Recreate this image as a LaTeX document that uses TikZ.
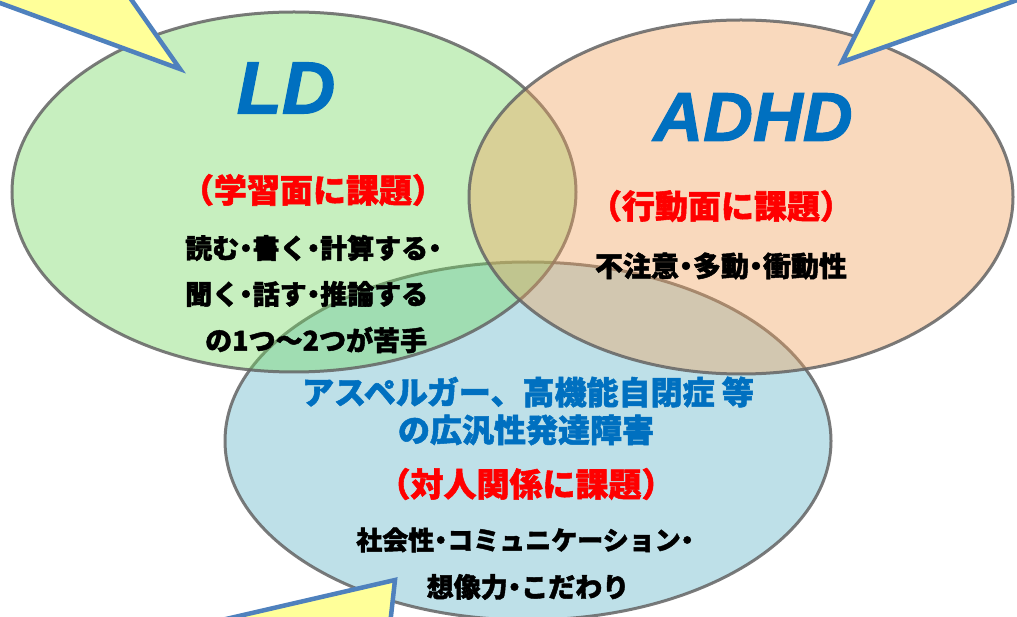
\documentclass[tikz,border=0pt]{standalone}
\usepackage{fontspec}
\newfontfamily\jp{Noto Sans CJK JP}[BoldFeatures={FakeBold=1.6}]
\newfontfamily\lat{Liberation Sans}[BoldItalicFeatures={FakeBold=1.5}]
\usetikzlibrary{shapes.geometric}
\definecolor{ldgreen}{RGB}{115,217,97}
\definecolor{adorange}{RGB}{242,162,92}
\definecolor{pdblue}{RGB}{190,224,232}
\definecolor{rim}{RGB}{100,100,100}
\definecolor{callfill}{RGB}{255,255,153}
\definecolor{callrim}{RGB}{79,129,189}
\definecolor{titleblue}{RGB}{0,112,192}
\definecolor{kadai}{RGB}{255,0,0}
\newcommand{\dt}{\makebox[0.5em]{・}}
\tikzset{
  blob/.style={ellipse, draw=rim, line width=3pt, fill=#1, fill opacity=0.4, draw opacity=0.85, inner sep=0pt},
  solidblob/.style={ellipse, draw=rim, line width=3pt, fill=#1, draw opacity=0.85, inner sep=0pt},
  callout/.style={fill=callfill, draw=callrim, line width=4.5pt, line join=miter},
  title/.style={font=\lat\bfseries\itshape, text=titleblue, inner sep=0pt},
  redtxt/.style={font=\jp\bfseries\fontsize{33}{36}\selectfont, text=kadai, inner sep=0pt},
  bluetxt/.style={font=\jp\bfseries\fontsize{32}{36}\selectfont, text=titleblue, inner sep=0pt},
  blacktxt/.style={font=\jp\bfseries\fontsize{27}{32}\selectfont, text=black, inner sep=0pt}
}
\begin{document}
\begin{tikzpicture}[x=1pt,y=-1pt]
\useasboundingbox (0,0) rectangle (1017,617);
\fill[white] (0,0) rectangle (1017,617);
% circles
\node[solidblob=pdblue, minimum width=606pt, minimum height=358pt] (pdd) at (528,441) {};
\node[blob=ldgreen, minimum width=564pt, minimum height=360pt] (ld) at (294,192) {};
\node[blob=adorange, minimum width=544pt, minimum height=354pt] (adhd) at (741,197) {};
% callouts
\draw[callout] (180,69) -- (-30,-8) -- (126,-8) -- cycle;
\draw[callout] (842,62) -- (877,-8) -- (1040,-8) -- cycle;
\draw[callout] (395,580) -- (200,625) -- (390,625) -- cycle;
% LD
\node[title, font=\lat\bfseries\itshape\fontsize{74}{74}\selectfont] (ldt) at (286,88) {LD};
\node[redtxt] (ldk) at (313,190) {（学習面に課題）};
\node[blacktxt, anchor=west] (ld1) at (185,248) {読む\dt 書く\dt 計算する\dt};
\node[blacktxt, anchor=west] (ld2) at (185,294) {聞く\dt 話す\dt 推論する};
\node[blacktxt, anchor=west] (ld3) at (205,340) {の1つ～2つが苦手};
% ADHD
\node[title, font=\lat\bfseries\itshape\fontsize{69}{69}\selectfont] (adt) at (753,117) {ADHD};
\node[redtxt] (adk) at (721,206) {（行動面に課題）};
\node[blacktxt, font=\jp\bfseries\fontsize{28}{32}\selectfont] (ad1) at (721,266) {不注意\dt 多動\dt 衝動性};
% PDD
\node[bluetxt] (pd1) at (528,392) {アスペルガー、高機能自閉症 等};
\node[bluetxt] (pd2) at (526,430) {の広汎性発達障害};
\node[redtxt] (pdk) at (526,484) {（対人関係に課題）};
\node[blacktxt, font=\jp\bfseries\fontsize{26}{30}\selectfont] (pd3) at (525,540) {社会性\dt コミュニケーション\dt};
\node[blacktxt] (pd4) at (528,587) {想像力\dt こだわり};
\end{tikzpicture}
\end{document}
